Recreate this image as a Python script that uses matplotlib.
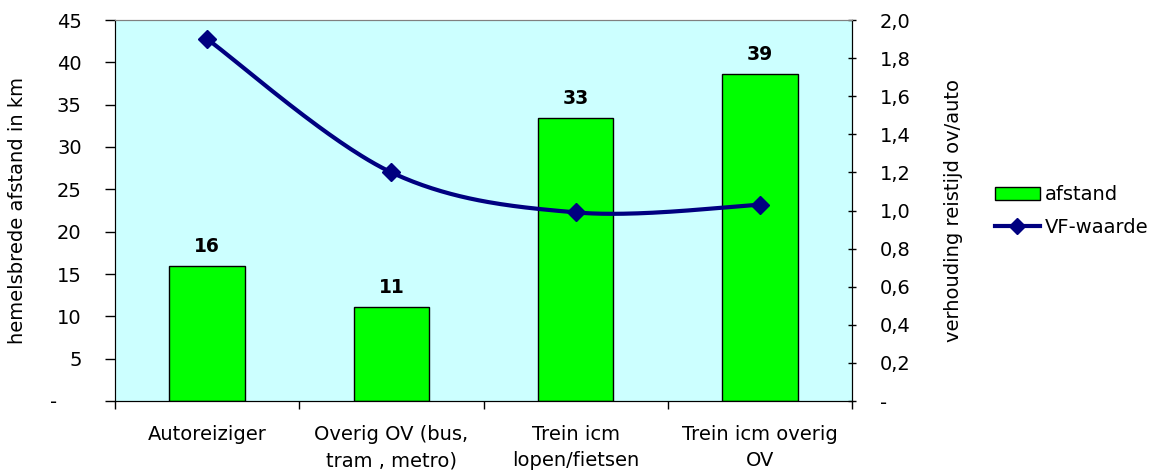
import numpy as np
import matplotlib
matplotlib.use("Agg")
import matplotlib.pyplot as plt
from matplotlib.ticker import FixedLocator, FuncFormatter
from matplotlib.lines import Line2D
from matplotlib.patches import Patch

categories = ["Autoreiziger", "Overig OV (bus,\ntram , metro)",
              "Trein icm\nlopen/fietsen", "Trein icm overig\nOV"]
afstand = [16.0, 11.1, 33.4, 38.6]
vf_waarde = [1.90, 1.20, 0.99, 1.03]

plt.rcParams["font.family"] = ["DejaVu Sans"]
FS = 14

fig = plt.figure(figsize=(11.71, 4.70), dpi=100)
ax = fig.add_axes([115 / 1171, 1 - 401 / 470, 737 / 1171, 381 / 470])
ax.set_facecolor("#CCFFFF")

x = np.arange(len(categories))
ax.bar(x, afstand, width=0.41, color="#00FF00", edgecolor="black",
       linewidth=1.0, label="afstand", zorder=2)
for xi, v in zip(x, afstand):
    ax.annotate(f"{v:.0f}", (xi, v), xytext=(0, 7), textcoords="offset points",
                ha="center", va="bottom", fontsize=13.5, fontweight="bold")

ax.set_xlim(-0.5, len(categories) - 0.5)
ax.set_ylim(0, 45)
ax.yaxis.set_major_locator(FixedLocator(np.arange(0, 46, 5)))
ax.yaxis.set_major_formatter(FuncFormatter(lambda v, p: "-    " if v == 0 else f"{v:.0f}"))
ax.set_xticks(x)
ax.set_xticklabels(categories, fontsize=FS, linespacing=1.5)
ax.xaxis.set_minor_locator(FixedLocator(np.arange(-0.5, len(categories), 1.0)))
ax.tick_params(axis="x", which="major", length=0, pad=17)
ax.tick_params(axis="x", which="minor", length=6, direction="out", width=1)
ax.tick_params(axis="y", length=7, direction="out", width=1, labelsize=FS, pad=17)
ax.set_ylabel("hemelsbrede afstand in km", fontsize=FS, labelpad=16)

ax.spines["top"].set_color("#808080")
ax.spines["left"].set_color("#555555")
ax.spines["bottom"].set_color("black")

# secondary axis: VF ratio, drawn as a smoothed line through the points
ax2 = ax.twinx()
ax2.set_ylim(0, 2.0)
ax2.yaxis.set_major_locator(FixedLocator(np.round(np.arange(0, 2.01, 0.2), 1)))
ax2.yaxis.set_major_formatter(FuncFormatter(
    lambda v, p: "-" if abs(v) < 1e-9 else f"{v:.1f}".replace(".", ",")))
ax2.tick_params(axis="y", length=6, direction="inout", width=1, labelsize=FS, pad=17)
ax2.spines["right"].set_color("black")
ax2.spines["top"].set_color("#808080")
ax2.set_ylabel("verhouding reistijd ov/auto", fontsize=FS, labelpad=24)

px = np.asarray(x, dtype=float)
py = np.asarray(vf_waarde, dtype=float)
pts = np.column_stack([px, py])
ext = np.vstack([pts[0], pts, pts[-1]])
curve = []
t = np.linspace(0, 1, 60)[:, None]
for i in range(len(pts) - 1):
    p0, p1, p2, p3 = ext[i], ext[i + 1], ext[i + 2], ext[i + 3]
    c1 = p1 + (p2 - p0) / 6
    c2 = p2 - (p3 - p1) / 6
    seg = ((1 - t) ** 3) * p1 + 3 * ((1 - t) ** 2) * t * c1 + 3 * (1 - t) * t ** 2 * c2 + t ** 3 * p2
    curve.append(seg)
curve = np.vstack(curve)
ax2.plot(curve[:, 0], curve[:, 1], color="#000080", lw=3, zorder=3,
         solid_capstyle="round")
ax2.plot(px, py, linestyle="none", marker="D", markersize=9, color="#000080",
         zorder=4)

handles = [Patch(facecolor="#00FF00", edgecolor="black", linewidth=1.0),
           Line2D([0], [0], color="#000080", lw=3, marker="D", markersize=8)]
fig.legend(handles, ["afstand", "VF-waarde"], loc="center left",
           bbox_to_anchor=(987 / 1171, 1 - 211 / 470), frameon=False,
           fontsize=FS, handlelength=2.3, handleheight=0.6, handletextpad=0.3,
           labelspacing=0.7, borderaxespad=0)

fig.savefig("out.png", dpi=100, facecolor="white")
